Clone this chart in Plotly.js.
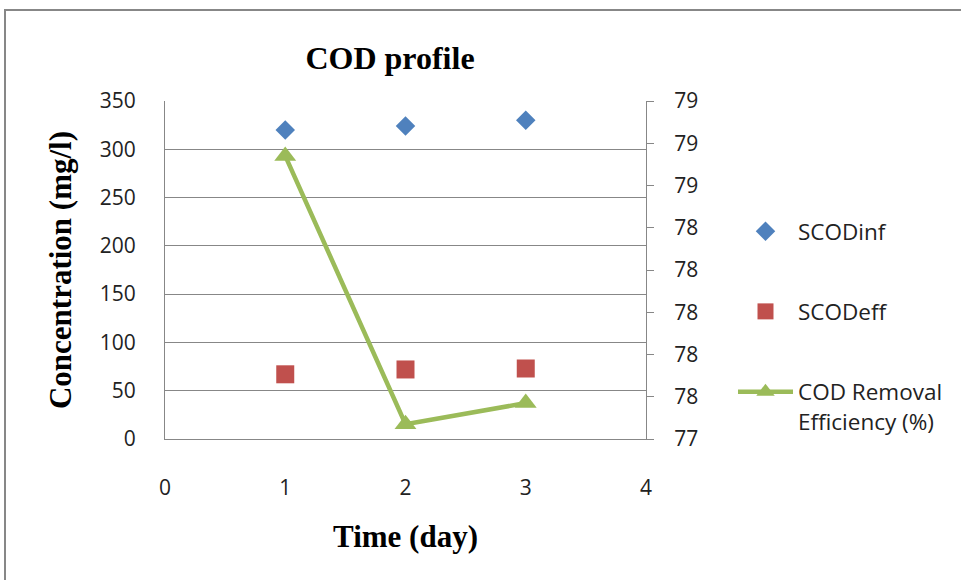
<!DOCTYPE html>
<html>
<head>
<meta charset="utf-8">
<script src="https://cdn.plot.ly/plotly-3.0.1.min.js"></script>
<style>
  html, body { margin: 0; padding: 0; background: #ffffff; }
  #chart { width: 961px; height: 580px; }
</style>
</head>
<body>
<div id="chart"></div>
<script>
// Sampling days
const days = [1, 2, 3];
// Soluble COD of influent and effluent (mg/l)
const scodInf = [320, 324, 330];
const scodEff = [67, 72, 73];
// COD removal efficiency (%)
const removalEff = [78.74, 77.47, 77.57];

const seriesNames = ['SCODinf', 'SCODeff', 'COD Removal<br>Efficiency (%)'];

const gray = '#878787';
const tickFont = { family: 'Open Sans, sans-serif', size: 21, color: '#222222' };
const titleFont = { family: 'Liberation Serif, Times New Roman, serif', size: 31, color: '#000000', weight: 'bold' };

const traces = [
  {
    x: days, y: scodInf, name: seriesNames[0], type: 'scatter', mode: 'markers',
    marker: { symbol: 'diamond', size: 15, color: '#4F81BD' },
    legendgroup: 'a', yaxis: 'y'
  },
  {
    x: days, y: scodEff, name: seriesNames[1], type: 'scatter', mode: 'markers',
    marker: { symbol: 'square', size: 18, color: '#C0504D' },
    legendgroup: 'b', yaxis: 'y'
  },
  {
    x: days, y: removalEff, name: seriesNames[2], type: 'scatter', mode: 'lines+markers',
    line: { color: '#9BBB59', width: 4.5 },
    marker: { symbol: 'triangle-up', size: 19, color: '#9BBB59' },
    legendgroup: 'c', yaxis: 'y2'
  }
];

// plot area spans x 165..646 and y 101..439 on the 961x580 page
const L = 165, R = 646, T = 101, B = 439;
const W = R - L, H = B - T;
const px = v => (v - L) / W;
const py = v => (B - v) / H;

const layout = {
  width: 961, height: 580,
  margin: { l: L, r: 961 - R, t: T, b: 580 - B, pad: 0 },
  paper_bgcolor: '#ffffff', plot_bgcolor: '#ffffff',
  showlegend: true,
  title: {
    text: 'COD profile', font: Object.assign({}, titleFont, { size: 32 }),
    xref: 'container', yref: 'container',
    x: 390 / 961, xanchor: 'center', y: 1 - 58 / 580, yanchor: 'middle'
  },
  xaxis: {
    range: [0, 4], dtick: 1, tick0: 0,
    showgrid: false, zeroline: false,
    showline: true, linecolor: gray, linewidth: 1,
    ticks: '', ticklabelstandoff: 30, tickfont: tickFont,
    title: { text: 'Time (day)', font: titleFont, standoff: 25 }
  },
  yaxis: {
    range: [0, 350], dtick: 50, tick0: 0,
    showgrid: true, gridcolor: gray, gridwidth: 1, zeroline: false,
    showline: true, linecolor: gray, linewidth: 1,
    ticks: '', ticklabelstandoff: 24, tickfont: tickFont,
    title: { text: 'Concentration (mg/l)', font: titleFont, standoff: 18 }
  },
  yaxis2: {
    overlaying: 'y', side: 'right',
    range: [77.4, 79.0], dtick: 0.2, tick0: 77.4, tickformat: '.0f',
    showgrid: false, zeroline: false,
    showline: true, linecolor: gray, linewidth: 1,
    ticks: 'outside', ticklen: 7, tickcolor: gray, tickwidth: 1,
    ticklabelstandoff: 16, tickfont: tickFont
  },
  legend: {
    x: px(733), xanchor: 'left', y: py(210), yanchor: 'top',
    bgcolor: 'rgba(0,0,0,0)', borderwidth: 0,
    font: { family: 'Open Sans, sans-serif', size: 22.5, color: '#222222' },
    traceorder: 'grouped', tracegroupgap: 48, valign: 'top', itemwidth: 55
  },
  shapes: [
    {
      type: 'rect', xref: 'paper', yref: 'paper',
      x0: px(5), x1: px(975), y0: py(600), y1: py(10),
      line: { color: gray, width: 2 }, fillcolor: 'rgba(0,0,0,0)', layer: 'below'
    }
  ]
};

Plotly.newPlot('chart', traces, layout, { displayModeBar: false, staticPlot: true });
</script>
</body>
</html>
